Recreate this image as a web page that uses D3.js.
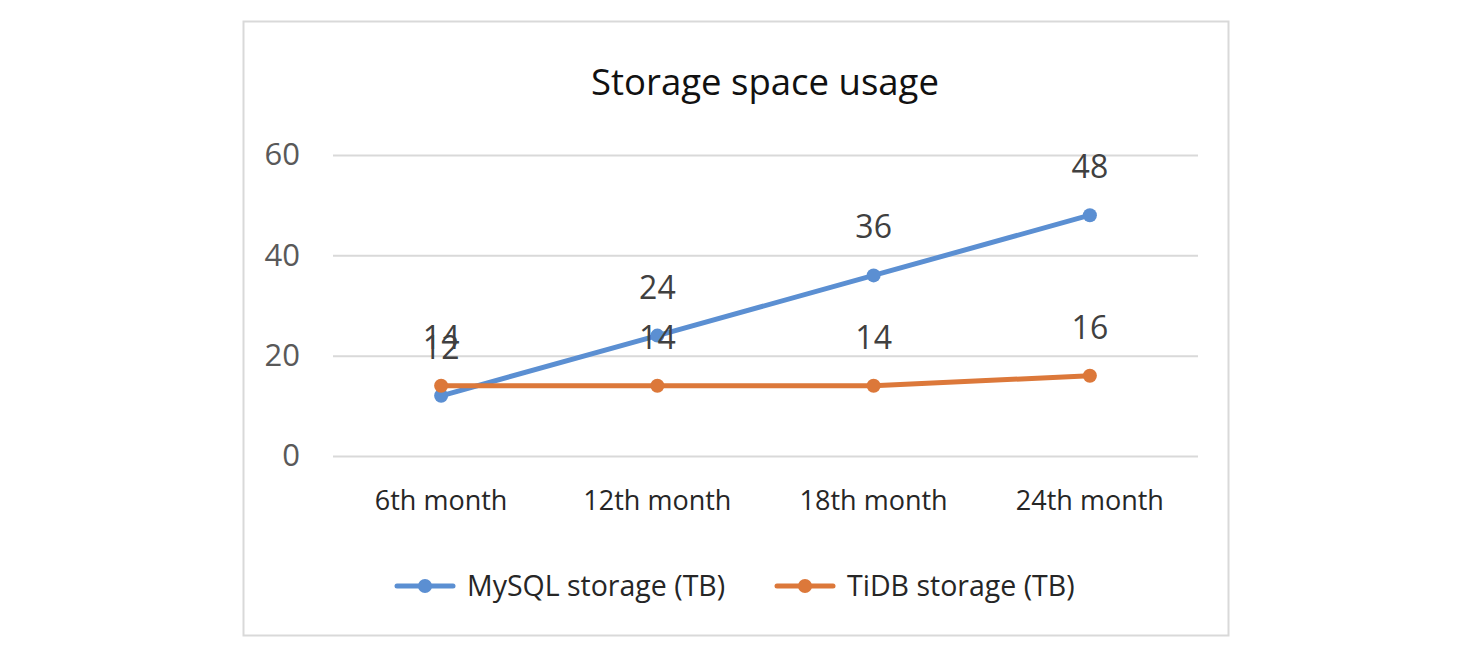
<!DOCTYPE html>
<html><head><meta charset="utf-8">
<script src="https://cdn.jsdelivr.net/npm/d3@7"></script>
<style>
html,body{margin:0;padding:0;background:#fff;}
svg text{font-family:"Open Sans","Noto Sans",sans-serif;}
</style></head>
<body>
<svg id="chart" width="1463" height="659"></svg>
<script>
const categories = ["6th month","12th month","18th month","24th month"];
const mysqlValues = [12,24,36,48];
const tidbValues = [14,14,14,16];
const yTicks = [0,20,40,60];
const seriesNames = ["MySQL storage (TB)","TiDB storage (TB)"];
const seriesColors = ["#5b8fd2","#dc783a"];

const svg = d3.select("#chart");
svg.append("rect").attr("x",243.5).attr("y",21.5).attr("width",985).attr("height",614)
  .attr("fill","#fff").attr("stroke","#d9d9d9").attr("stroke-width",2);

svg.append("text").attr("x",765).attr("y",95).attr("text-anchor","middle")
  .attr("font-size",36.5).attr("fill","#111").text("Storage space usage");

const x = d3.scaleBand().domain(categories).range([333,1198]);
const y = d3.scaleLinear().domain([0,60]).range([456,155]);

const yAxis = d3.axisLeft(y).tickValues(yTicks).tickSize(-(1198-333)).tickPadding(33);
const gy = svg.append("g").attr("transform","translate(333,0)").call(yAxis);
gy.select(".domain").remove();
gy.selectAll(".tick line").attr("stroke","#d9d9d9").attr("stroke-width",2);
gy.selectAll(".tick text").attr("font-size",31).attr("fill","#595959").attr("font-family","Open Sans, sans-serif");

const xAxis = d3.axisBottom(x).tickSize(0).tickPadding(0);
const gx = svg.append("g").attr("transform","translate(0,456)").call(xAxis);
gx.select(".domain").remove();
gx.selectAll(".tick text").attr("font-size",27).attr("fill","#262626").attr("y",47).attr("dy","0")
  .attr("dominant-baseline","middle").attr("font-family","Open Sans, sans-serif");

const cx = d => x(d) + x.bandwidth()/2;
const series = [mysqlValues, tidbValues];
const line = d3.line().x((d,i)=>cx(categories[i])).y(d=>y(d));

series.forEach((vals,si)=>{
  svg.append("path").datum(vals).attr("d",line).attr("fill","none")
    .attr("stroke",seriesColors[si]).attr("stroke-width",5).attr("stroke-linecap","round");
  svg.selectAll(null).data(vals).enter().append("circle")
    .attr("cx",(d,i)=>cx(categories[i])).attr("cy",d=>y(d)).attr("r",7)
    .attr("fill",seriesColors[si]);
});
series.forEach((vals,si)=>{
  svg.selectAll(null).data(vals).enter().append("text")
    .attr("x",(d,i)=>cx(categories[i])).attr("y",d=>y(d)-37)
    .attr("text-anchor","middle").attr("font-size",32).attr("fill","#404040")
    .text(d=>d);
});

const legendX = [397,777];
seriesNames.forEach((name,i)=>{
  const g = svg.append("g").attr("transform",`translate(${legendX[i]},586)`);
  g.append("line").attr("x1",0).attr("x2",56).attr("y1",0).attr("y2",0)
    .attr("stroke",seriesColors[i]).attr("stroke-width",5).attr("stroke-linecap","round");
  g.append("circle").attr("cx",28).attr("cy",0).attr("r",7).attr("fill",seriesColors[i]);
  g.append("text").attr("x",70).attr("y",10).attr("font-size",28.5).attr("fill","#262626").text(name);
});
</script>
</body></html>
